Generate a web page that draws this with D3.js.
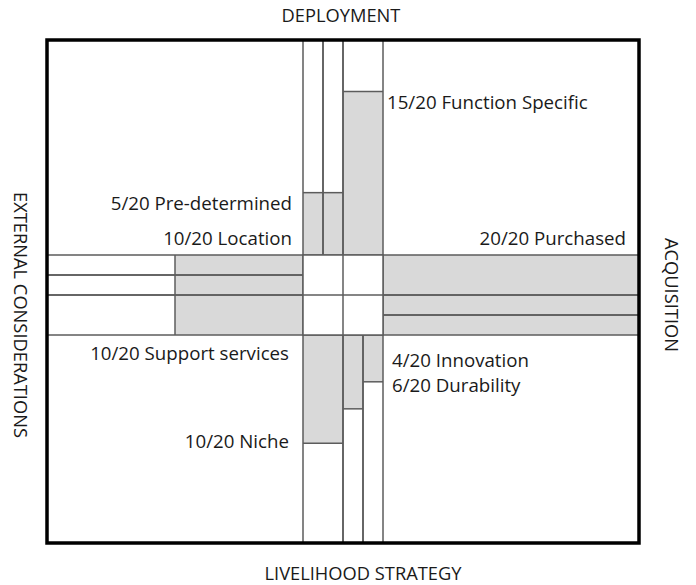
<!DOCTYPE html>
<html>
<head>
<meta charset="utf-8">
<script src="https://cdn.jsdelivr.net/npm/d3@7"></script>
<style>
  body { margin: 0; background: #fff; }
  text { font-family: "Open Sans", sans-serif; fill: #1a1a1a; }
</style>
</head>
<body>
<div id="chart"></div>
<script>
// axis titles
const axisTitles = ["DEPLOYMENT", "ACQUISITION", "LIVELIHOOD STRATEGY", "EXTERNAL CONSIDERATIONS"];

// deployment (top arm)
const upCategories = ["Pre-determined", "Function Specific"];
const upScores = [5, 15];
const upDrawn = [5.8, 15.2];      // bar length as drawn, out of 20
const upSlots = [1, 1, 2];        // strip widths in quarter units of the centre
const upStripCat = [0, 0, 1];

// acquisition (right arm)
const rightCategories = ["Purchased"];
const rightScores = [20];
const rightDrawn = [20];
const rightSlots = [2, 1, 1];
const rightStripCat = [0, 0, 0];

// livelihood strategy (bottom arm)
const downCategories = ["Niche", "Durability", "Innovation"];
const downScores = [10, 6, 4];
const downDrawn = [10.4, 7.1, 4.5];
const downSlots = [2, 1, 1];
const downStripCat = [0, 1, 2];

// external considerations (left arm)
const leftCategories = ["Location", "Support services"];
const leftScores = [10, 10];
const leftDrawn = [10, 10];
const leftSlots = [1, 1, 2];
const leftStripCat = [0, 0, 1];

const maxScore = 20;

const W = 696, H = 585;
const frame = { x0: 47, x1: 639, y0: 40, y1: 543 };
const centre = { x0: 303, x1: 383, y0: 255, y1: 335 };

const svg = d3.select("#chart").append("svg")
    .attr("width", W)
    .attr("height", H);

// scales
const cx = d3.scaleLinear().domain([0, 4]).range([centre.x0, centre.x1]);
const cy = d3.scaleLinear().domain([0, 4]).range([centre.y0, centre.y1]);
const upScale = d3.scaleLinear().domain([0, maxScore]).range([centre.y0, frame.y0]);
const downScale = d3.scaleLinear().domain([0, maxScore]).range([centre.y1, frame.y1]);
const leftScale = d3.scaleLinear().domain([0, maxScore]).range([centre.x0, frame.x0]);
const rightScale = d3.scaleLinear().domain([0, maxScore]).range([centre.x1, frame.x1]);

const fillColor = "#d9d9d9";
const lineColor = "#5c5c5c";
const lineW = 1.5;

function strips(slots, cat, drawn) {
    let acc = 0;
    return slots.map((s, i) => {
        const d = { a: acc, b: acc + s, v: drawn[cat[i]] };
        acc += s;
        return d;
    });
}

// vertical arms
function verticalArm(data, scale) {
    const g = svg.append("g");
    g.selectAll("rect.fill").data(data).enter().append("rect")
        .attr("x", d => cx(d.a))
        .attr("width", d => cx(d.b) - cx(d.a))
        .attr("y", d => Math.min(scale(0), scale(d.v)))
        .attr("height", d => Math.abs(scale(d.v) - scale(0)))
        .attr("fill", fillColor);
    g.selectAll("rect.out").data(data).enter().append("rect")
        .attr("x", d => cx(d.a))
        .attr("width", d => cx(d.b) - cx(d.a))
        .attr("y", Math.min(scale(0), scale(maxScore)))
        .attr("height", Math.abs(scale(maxScore) - scale(0)))
        .attr("fill", "none")
        .attr("stroke", lineColor)
        .attr("stroke-width", lineW);
    g.selectAll("line.end").data(data.filter(d => d.v < maxScore)).enter().append("line")
        .attr("x1", d => cx(d.a)).attr("x2", d => cx(d.b))
        .attr("y1", d => scale(d.v)).attr("y2", d => scale(d.v))
        .attr("stroke", lineColor)
        .attr("stroke-width", lineW);
}

// horizontal arms
function horizontalArm(data, scale) {
    const g = svg.append("g");
    g.selectAll("rect.fill").data(data).enter().append("rect")
        .attr("y", d => cy(d.a))
        .attr("height", d => cy(d.b) - cy(d.a))
        .attr("x", d => Math.min(scale(0), scale(d.v)))
        .attr("width", d => Math.abs(scale(d.v) - scale(0)))
        .attr("fill", fillColor);
    g.selectAll("rect.out").data(data).enter().append("rect")
        .attr("y", d => cy(d.a))
        .attr("height", d => cy(d.b) - cy(d.a))
        .attr("x", Math.min(scale(0), scale(maxScore)))
        .attr("width", Math.abs(scale(maxScore) - scale(0)))
        .attr("fill", "none")
        .attr("stroke", lineColor)
        .attr("stroke-width", lineW);
    g.selectAll("line.end").data(data.filter(d => d.v < maxScore)).enter().append("line")
        .attr("y1", d => cy(d.a)).attr("y2", d => cy(d.b))
        .attr("x1", d => scale(d.v)).attr("x2", d => scale(d.v))
        .attr("stroke", lineColor)
        .attr("stroke-width", lineW);
}

verticalArm(strips(upSlots, upStripCat, upDrawn), upScale);
verticalArm(strips(downSlots, downStripCat, downDrawn), downScale);
horizontalArm(strips(leftSlots, leftStripCat, leftDrawn), leftScale);
horizontalArm(strips(rightSlots, rightStripCat, rightDrawn), rightScale);

// centre square, split in four
const cg = svg.append("g").attr("stroke", lineColor).attr("stroke-width", lineW);
cg.append("rect")
    .attr("x", cx(0)).attr("y", cy(0))
    .attr("width", cx(4) - cx(0)).attr("height", cy(4) - cy(0))
    .attr("fill", "#fff");
cg.append("line").attr("x1", cx(2)).attr("x2", cx(2)).attr("y1", cy(0)).attr("y2", cy(4));
cg.append("line").attr("x1", cx(0)).attr("x2", cx(4)).attr("y1", cy(2)).attr("y2", cy(2));

// outer frame
svg.append("rect")
    .attr("x", frame.x0).attr("y", frame.y0)
    .attr("width", frame.x1 - frame.x0).attr("height", frame.y1 - frame.y0)
    .attr("fill", "none")
    .attr("stroke", "#000")
    .attr("stroke-width", 3.5);

// score labels
const lab = (s, name) => `${s}/${maxScore} ${name}`;
const labels = [
    { t: lab(upScores[1], upCategories[1]), x: cx(4) + 4, y: upScale(upDrawn[1]) + 11, a: "start" },
    { t: lab(upScores[0], upCategories[0]), x: cx(0) - 11, y: upScale(upDrawn[0]) + 11, a: "end" },
    { t: lab(leftScores[0], leftCategories[0]), x: cx(0) - 11, y: cy(0) - 17, a: "end" },
    { t: lab(rightScores[0], rightCategories[0]), x: rightScale(maxScore) - 13, y: cy(0) - 17, a: "end" },
    { t: lab(leftScores[1], leftCategories[1]), x: cx(0) - 14, y: cy(4) + 18, a: "end" },
    { t: lab(downScores[2], downCategories[2]), x: cx(4) + 9, y: cy(4) + 25, a: "start" },
    { t: lab(downScores[1], downCategories[1]), x: cx(4) + 9, y: cy(4) + 50, a: "start" },
    { t: lab(downScores[0], downCategories[0]), x: cx(0) - 14, y: downScale(downDrawn[0]) - 2, a: "end" }
];
svg.append("g").selectAll("text").data(labels).enter().append("text")
    .attr("x", d => d.x)
    .attr("y", d => d.y)
    .attr("dy", "0.35em")
    .attr("text-anchor", d => d.a)
    .style("font-size", "18.7px")
    .text(d => d.t);

// axis titles
const tg = svg.append("g").style("font-size", "18.3px").attr("text-anchor", "middle");
tg.append("text").attr("x", cx(2) - 2).attr("y", 16).attr("dy", "0.35em").text(axisTitles[0]);
tg.append("text").attr("x", cx(3)).attr("y", 574).attr("dy", "0.35em").text(axisTitles[2]);
tg.append("text").attr("transform", `translate(671,${cy(2)}) rotate(90)`).attr("dy", "0.35em").text(axisTitles[1]);
tg.append("text").attr("transform", `translate(20,${cy(3)}) rotate(90)`).attr("dy", "0.35em").text(axisTitles[3]);
</script>
</body>
</html>
